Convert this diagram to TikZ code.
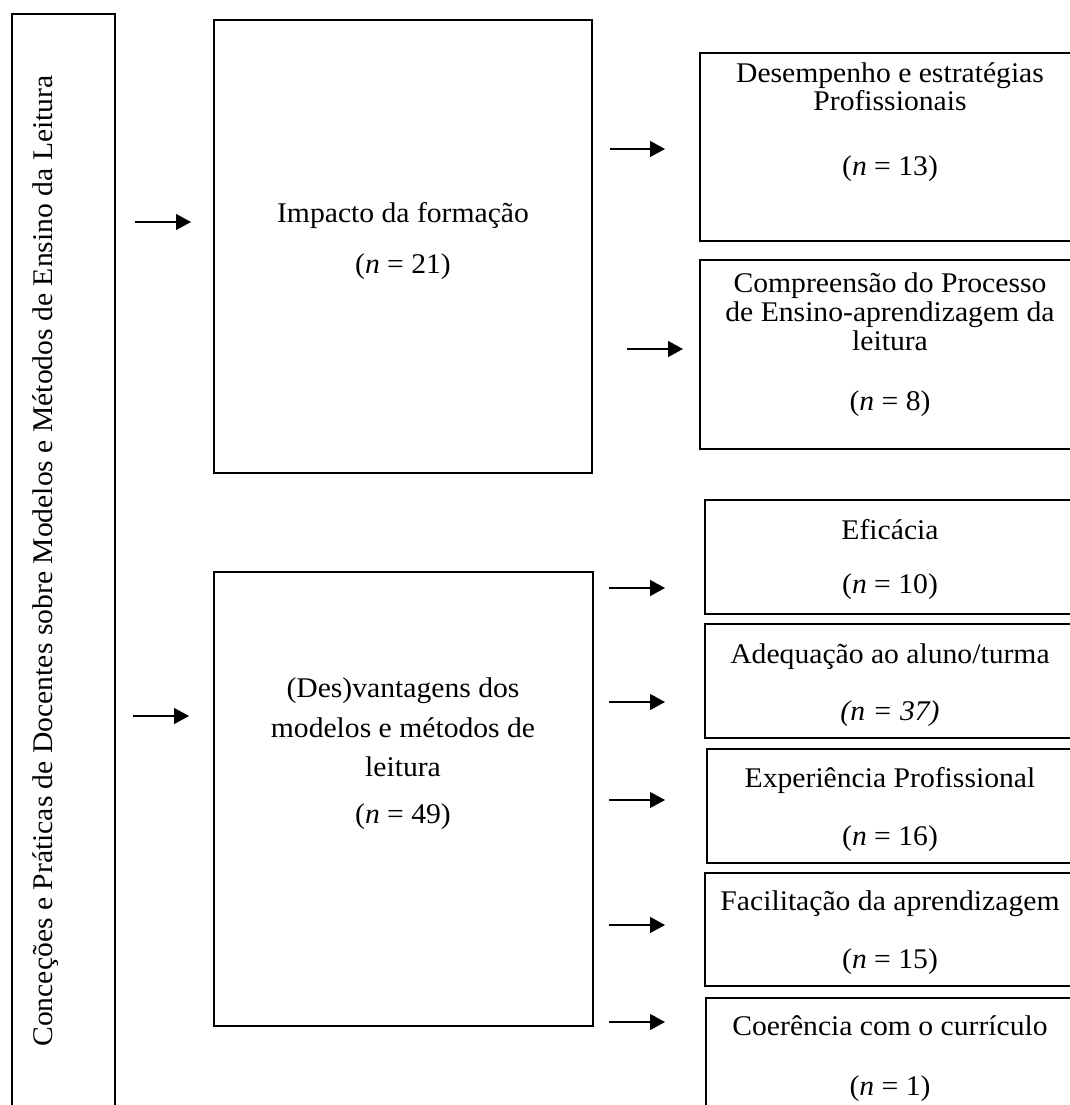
\documentclass[tikz,border=0pt]{standalone}
\usepackage{fontspec}
\setmainfont{Liberation Serif}[FakeStretch=1.04]
\usetikzlibrary{arrows.meta,fit}
\begin{document}
\begin{tikzpicture}[x=0.5pt,y=-0.5pt,
  box/.style={draw, line width=1.4pt, inner sep=0pt, outer sep=0pt},
  sidebox/.style={draw, line width=1.1pt, inner sep=0pt, outer sep=0pt},
  arr/.style={-{Triangle[length=7.5pt,width=8pt]}, line width=0.6pt},
  txt/.style={anchor=base, inner sep=0pt, font=\fontsize{14.25pt}{15pt}\selectfont}]
\useasboundingbox (0,0) rectangle (1070,1105);
\clip (0,0) rectangle (1070,1105);

% left category box
\node[sidebox, fit={(12,14) (115,1130)}] (cat) {};
\node[txt, rotate=90] (cattxt) at (53,561) {Conceções e Práticas de Docentes sobre Modelos e Métodos de Ensino da Leitura};

% middle boxes
\node[box, fit={(214,20) (592,473)}] (imp) {};
\node[txt] (impa) at (403,222) {Impacto da formação};
\node[txt] (impb) at (403,273) {(\textit{n} = 21)};

\node[box, fit={(214,572) (593,1026)}] (des) {};
\node[txt] (desa) at (403,697) {(Des)vantagens dos};
\node[txt] (desb) at (403,737) {modelos e métodos de};
\node[txt] (desc) at (403,776) {leitura};
\node[txt] (desd) at (403,823) {(\textit{n} = 49)};

% right boxes
\node[box, fit={(700,53) (1085,241)}] (r1) {};
\node[txt] (r1a) at (890,82) {Desempenho e estratégias};
\node[txt] (r1b) at (890,110) {Profissionais};
\node[txt] (r1c) at (890,175) {(\textit{n} = 13)};

\node[box, fit={(700,260) (1085,449)}] (r2) {};
\node[txt] (r2a) at (890,292) {Compreensão do Processo};
\node[txt] (r2b) at (890,321) {de Ensino-aprendizagem da};
\node[txt] (r2c) at (890,350) {leitura};
\node[txt] (r2d) at (890,410) {(\textit{n} = 8)};

\node[box, fit={(705,500) (1085,614)}] (r3) {};
\node[txt] (r3a) at (890,539) {Eficácia};
\node[txt] (r3b) at (890,593) {(\textit{n} = 10)};

\node[box, fit={(705,624) (1085,738)}] (r4) {};
\node[txt] (r4a) at (890,663) {Adequação ao aluno/turma};
\node[txt] (r4b) at (890,720) {\textit{(n = 37)}};

\node[box, fit={(707,749) (1085,863)}] (r5) {};
\node[txt] (r5a) at (890,787) {Experiência Profissional};
\node[txt] (r5b) at (890,845) {(\textit{n} = 16)};

\node[box, fit={(705,873) (1085,986)}] (r6) {};
\node[txt] (r6a) at (890,910) {Facilitação da aprendizagem};
\node[txt] (r6b) at (890,968) {(\textit{n} = 15)};

\node[box, fit={(706,998) (1085,1130)}] (r7) {};
\node[txt] (r7a) at (890,1035) {Coerência com o currículo};
\node[txt] (r7b) at (890,1095) {(\textit{n} = 1)};

% arrows
\coordinate (l1s) at (135,222); \coordinate (l1e) at (191,222);
\coordinate (l2s) at (133,716); \coordinate (l2e) at (189,716);
\coordinate (a1s) at (610,149); \coordinate (a1e) at (665,149);
\coordinate (a2s) at (627,349); \coordinate (a2e) at (683,349);
\coordinate (a3s) at (609,588); \coordinate (a3e) at (665,588);
\coordinate (a4s) at (609,702); \coordinate (a4e) at (665,702);
\coordinate (a5s) at (609,800); \coordinate (a5e) at (665,800);
\coordinate (a6s) at (609,925); \coordinate (a6e) at (665,925);
\coordinate (a7s) at (609,1022); \coordinate (a7e) at (665,1022);
\foreach \a in {l1,l2,a1,a2,a3,a4,a5,a6,a7}
  \draw[arr] (\a s) -- (\a e);
\end{tikzpicture}
\end{document}
